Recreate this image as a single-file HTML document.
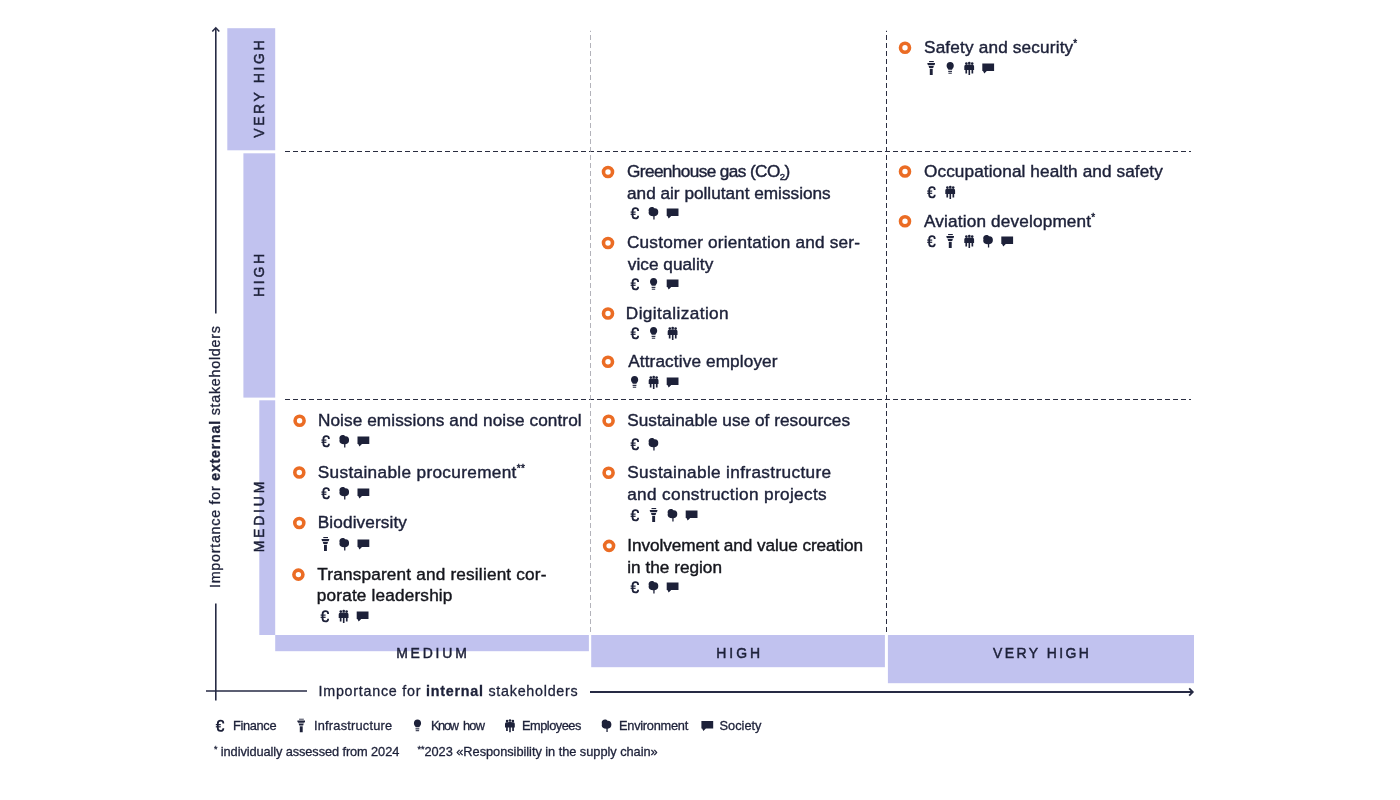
<!DOCTYPE html>
<html><head><meta charset="utf-8"><title>Materiality matrix</title>
<style>
html,body{margin:0;padding:0;background:#fff;}
body{width:1400px;height:800px;overflow:hidden;}
svg{display:block;will-change:transform;}
text{font-family:"Liberation Sans",sans-serif;}
</style></head><body>
<svg width="1400" height="800" viewBox="0 0 1400 800">
<defs>
<symbol id='i-euro' viewBox='0 0 14 14'><path d='M10.5 4.9 V4.4 C10.5 2.8 9.6 2.2 7.8 2.2 C5.9 2.2 5.0 2.9 5.0 4.9 V9.7 C5.0 11.7 5.9 12.4 7.8 12.4 C9.6 12.4 10.5 11.8 10.5 10.2 V9.7' fill='none' stroke='currentColor' stroke-width='1.8'/><rect x='3.0' y='5.5' width='5.0' height='1.2'/><rect x='3.0' y='7.7' width='5.0' height='1.2'/></symbol>
<symbol id='i-tower' viewBox='0 0 14 14'><rect x='4.9' y='0' width='4.7' height='1.1'/><path d='M3.2 2.0 H10.8 V2.9 L10.1 4.2 H3.9 L3.2 2.9 Z'/><path d='M4.4 5.0 H9.6 L9.0 6.9 H5.0 Z'/><rect x='5.6' y='7.8' width='2.9' height='6.2'/></symbol>
<symbol id='i-bulb' viewBox='0 0 14 14'><path d='M7 1.0 C9.2 1.0 10.6 2.6 10.6 4.7 C10.6 6.5 9.4 7.3 8.8 8.8 H5.2 C4.6 7.3 3.4 6.5 3.4 4.7 C3.4 2.6 4.8 1.0 7 1.0 Z'/><rect x='5.0' y='9.8' width='3.8' height='1.1'/><rect x='5.2' y='11.7' width='3.4' height='1.0'/></symbol>
<symbol id='i-emp' viewBox='0 0 14 14'><circle cx='4.2' cy='2.6' r='1.3'/><circle cx='7.1' cy='2.0' r='1.35'/><circle cx='10.0' cy='2.6' r='1.3'/><path d='M2.1 5.4 Q2.1 3.8 3.5 3.8 H5.4 Q5.8 3.2 6.6 3.2 H7.6 Q8.4 3.2 8.8 3.8 H10.6 Q11.9 3.8 11.9 5.4 V9.0 H11.0 V12.4 H9.3 V9.0 H7.9 V14.0 H6.3 V9.0 H4.9 V12.4 H3.2 V9.0 H2.1 Z'/></symbol>
<symbol id='i-tree' viewBox='0 0 14 14'><path d='M2.0 4.6 C1.9 2.3 3.3 1.1 5.3 1.1 C6.5 1.1 7.3 1.6 7.8 2.2 C10.3 2.0 11.7 3.4 11.7 6.0 C11.7 8.6 10.4 10.1 8.0 10.2 V13.6 H6.7 V10.2 C3.8 10.2 2.0 8.9 2.0 6.8 C2.3 6.0 2.3 5.4 2.0 4.6 Z'/></symbol>
<symbol id='i-speech' viewBox='0 0 14 14'><path d='M1.2 2.4 H12.8 Q12.9 2.4 12.9 2.6 V9.9 Q12.9 10.1 12.8 10.1 H5.6 L3.1 12.5 L1.8 10.1 H1.2 Q1.1 10.1 1.1 9.9 V2.6 Q1.1 2.4 1.2 2.4 Z'/></symbol>
</defs>
<rect width='1400' height='800' fill='#fff'/>
<rect x='227.3' y='28.2' width='47.90' height='122.10' fill='#c1c2ef'/>
<rect x='243.4' y='153.3' width='31.80' height='244.30' fill='#c1c2ef'/>
<rect x='259.3' y='400.3' width='15.90' height='234.70' fill='#c1c2ef'/>
<rect x='275.2' y='635' width='313.70' height='16.20' fill='#c1c2ef'/>
<rect x='591.2' y='635' width='293.70' height='32.20' fill='#c1c2ef'/>
<rect x='887.9' y='635' width='306.10' height='48.20' fill='#c1c2ef'/>
<line x1='285' y1='151.5' x2='1191' y2='151.5' stroke='#2a2d40' stroke-width='1' stroke-dasharray='5 3'/>
<line x1='285' y1='399.5' x2='1191' y2='399.5' stroke='#2a2d40' stroke-width='1' stroke-dasharray='5 3'/>
<line x1='886.5' y1='30.75' x2='886.5' y2='632' stroke='#2a2d40' stroke-width='1' stroke-dasharray='5 3' stroke-dashoffset='3.75'/>
<line x1='590.5' y1='30.75' x2='590.5' y2='632' stroke='#a0a0a8' stroke-width='0.8' stroke-dasharray='5 3' stroke-dashoffset='3.75'/>
<line x1='215.8' y1='28' x2='215.8' y2='313.5' stroke='#262a44' stroke-width='1.6'/>
<polyline points='212.3,31.5 215.8,27.8 219.3,31.5' fill='none' stroke='#262a44' stroke-width='1.5'/>
<line x1='215.8' y1='603.5' x2='215.8' y2='700.5' stroke='#262a44' stroke-width='1.6'/>
<line x1='206' y1='691' x2='307' y2='691' stroke='#262a44' stroke-width='1.6'/>
<line x1='590' y1='692' x2='1192' y2='692' stroke='#262a44' stroke-width='2'/>
<polyline points='1189.2,688.4 1192.8,692 1189.2,695.6' fill='none' stroke='#262a44' stroke-width='1.8'/>
<circle cx='905' cy='47.7' r='4.5' fill='none' stroke='#eb6c24' stroke-width='3.6'/>
<use href='#i-tower' x='924.2' y='61' width='14' height='14' fill='#1d2139' color='#1d2139'/>
<use href='#i-bulb' x='943.2' y='61' width='14' height='14' fill='#1d2139' color='#1d2139'/>
<use href='#i-emp' x='962.2' y='61' width='14' height='14' fill='#1d2139' color='#1d2139'/>
<use href='#i-speech' x='981.2' y='61' width='14' height='14' fill='#1d2139' color='#1d2139'/>
<circle cx='905' cy='171.5' r='4.5' fill='none' stroke='#eb6c24' stroke-width='3.6'/>
<use href='#i-euro' x='924.2' y='185' width='14' height='14' fill='#1d2139' color='#1d2139'/>
<use href='#i-emp' x='943.2' y='185' width='14' height='14' fill='#1d2139' color='#1d2139'/>
<circle cx='905' cy='221.3' r='4.5' fill='none' stroke='#eb6c24' stroke-width='3.6'/>
<use href='#i-euro' x='924.2' y='234' width='14' height='14' fill='#1d2139' color='#1d2139'/>
<use href='#i-tower' x='943.2' y='234' width='14' height='14' fill='#1d2139' color='#1d2139'/>
<use href='#i-emp' x='962.2' y='234' width='14' height='14' fill='#1d2139' color='#1d2139'/>
<use href='#i-tree' x='981.2' y='234' width='14' height='14' fill='#1d2139' color='#1d2139'/>
<use href='#i-speech' x='1000.2' y='234' width='14' height='14' fill='#1d2139' color='#1d2139'/>
<circle cx='608' cy='172' r='4.5' fill='none' stroke='#eb6c24' stroke-width='3.6'/>
<use href='#i-euro' x='627.6' y='206' width='14' height='14' fill='#1d2139' color='#1d2139'/>
<use href='#i-tree' x='646.6' y='206' width='14' height='14' fill='#1d2139' color='#1d2139'/>
<use href='#i-speech' x='665.6' y='206' width='14' height='14' fill='#1d2139' color='#1d2139'/>
<circle cx='608' cy='243' r='4.5' fill='none' stroke='#eb6c24' stroke-width='3.6'/>
<use href='#i-euro' x='627.6' y='277' width='14' height='14' fill='#1d2139' color='#1d2139'/>
<use href='#i-bulb' x='646.6' y='277' width='14' height='14' fill='#1d2139' color='#1d2139'/>
<use href='#i-speech' x='665.6' y='277' width='14' height='14' fill='#1d2139' color='#1d2139'/>
<circle cx='608' cy='313.5' r='4.5' fill='none' stroke='#eb6c24' stroke-width='3.6'/>
<use href='#i-euro' x='627.6' y='326' width='14' height='14' fill='#1d2139' color='#1d2139'/>
<use href='#i-bulb' x='646.6' y='326' width='14' height='14' fill='#1d2139' color='#1d2139'/>
<use href='#i-emp' x='665.6' y='326' width='14' height='14' fill='#1d2139' color='#1d2139'/>
<circle cx='608' cy='361.7' r='4.5' fill='none' stroke='#eb6c24' stroke-width='3.6'/>
<use href='#i-bulb' x='627.6' y='375' width='14' height='14' fill='#1d2139' color='#1d2139'/>
<use href='#i-emp' x='646.6' y='375' width='14' height='14' fill='#1d2139' color='#1d2139'/>
<use href='#i-speech' x='665.6' y='375' width='14' height='14' fill='#1d2139' color='#1d2139'/>
<circle cx='608.6' cy='420.7' r='4.5' fill='none' stroke='#eb6c24' stroke-width='3.6'/>
<use href='#i-euro' x='627.6' y='437' width='14' height='14' fill='#1d2139' color='#1d2139'/>
<use href='#i-tree' x='646.6' y='437' width='14' height='14' fill='#1d2139' color='#1d2139'/>
<circle cx='608.6' cy='472.8' r='4.5' fill='none' stroke='#eb6c24' stroke-width='3.6'/>
<use href='#i-euro' x='627.6' y='508' width='14' height='14' fill='#1d2139' color='#1d2139'/>
<use href='#i-tower' x='646.6' y='508' width='14' height='14' fill='#1d2139' color='#1d2139'/>
<use href='#i-tree' x='665.6' y='508' width='14' height='14' fill='#1d2139' color='#1d2139'/>
<use href='#i-speech' x='684.6' y='508' width='14' height='14' fill='#1d2139' color='#1d2139'/>
<circle cx='609.1' cy='545.85' r='4.5' fill='none' stroke='#eb6c24' stroke-width='3.6'/>
<use href='#i-euro' x='627.6' y='580' width='14' height='14' fill='#1d2139' color='#1d2139'/>
<use href='#i-tree' x='646.6' y='580' width='14' height='14' fill='#1d2139' color='#1d2139'/>
<use href='#i-speech' x='665.6' y='580' width='14' height='14' fill='#1d2139' color='#1d2139'/>
<circle cx='299.6' cy='420.75' r='4.5' fill='none' stroke='#eb6c24' stroke-width='3.6'/>
<use href='#i-euro' x='318.4' y='434' width='14' height='14' fill='#1d2139' color='#1d2139'/>
<use href='#i-tree' x='337.4' y='434' width='14' height='14' fill='#1d2139' color='#1d2139'/>
<use href='#i-speech' x='356.4' y='434' width='14' height='14' fill='#1d2139' color='#1d2139'/>
<circle cx='299.3' cy='472.5' r='4.5' fill='none' stroke='#eb6c24' stroke-width='3.6'/>
<use href='#i-euro' x='318.4' y='486' width='14' height='14' fill='#1d2139' color='#1d2139'/>
<use href='#i-tree' x='337.4' y='486' width='14' height='14' fill='#1d2139' color='#1d2139'/>
<use href='#i-speech' x='356.4' y='486' width='14' height='14' fill='#1d2139' color='#1d2139'/>
<circle cx='299.3' cy='523' r='4.5' fill='none' stroke='#eb6c24' stroke-width='3.6'/>
<use href='#i-tower' x='318.4' y='537' width='14' height='14' fill='#1d2139' color='#1d2139'/>
<use href='#i-tree' x='337.4' y='537' width='14' height='14' fill='#1d2139' color='#1d2139'/>
<use href='#i-speech' x='356.4' y='537' width='14' height='14' fill='#1d2139' color='#1d2139'/>
<circle cx='298.4' cy='574.6' r='4.5' fill='none' stroke='#eb6c24' stroke-width='3.6'/>
<use href='#i-euro' x='317.6' y='609' width='14' height='14' fill='#1d2139' color='#1d2139'/>
<use href='#i-emp' x='336.6' y='609' width='14' height='14' fill='#1d2139' color='#1d2139'/>
<use href='#i-speech' x='355.6' y='609' width='14' height='14' fill='#1d2139' color='#1d2139'/>
<use href='#i-euro' x='212.8' y='718.5' width='14' height='14' fill='#1d2139' color='#1d2139'/>
<use href='#i-tower' x='294.2' y='718.5' width='14' height='14' fill='#1d2139' color='#1d2139'/>
<use href='#i-bulb' x='410.5' y='718.5' width='14' height='14' fill='#1d2139' color='#1d2139'/>
<use href='#i-emp' x='502.9' y='718.5' width='14' height='14' fill='#1d2139' color='#1d2139'/>
<use href='#i-tree' x='599.7' y='718.5' width='14' height='14' fill='#1d2139' color='#1d2139'/>
<use href='#i-speech' x='700.3' y='718.5' width='14' height='14' fill='#1d2139' color='#1d2139'/>
<text id='safety' font-size='17.2' font-weight='normal' fill='#1d2139' stroke='#1d2139' stroke-width='0.42' textLength='153.28' lengthAdjust='spacing' x='924.00' y='52.5'>Safety and security<tspan font-size='10' dy='-6'>*</tspan></text>
<text id='occup' font-size='17.2' font-weight='normal' fill='#1d2139' stroke='#1d2139' stroke-width='0.42' textLength='238.82' lengthAdjust='spacing' x='924.00' y='176.7'>Occupational health and safety</text>
<text id='aviation' font-size='17.2' font-weight='normal' fill='#1d2139' stroke='#1d2139' stroke-width='0.42' textLength='171.14' lengthAdjust='spacing' x='924.00' y='226.5'>Aviation development<tspan font-size='10' dy='-6'>*</tspan></text>
<text id='greenhouse' font-size='17.2' font-weight='normal' fill='#1d2139' stroke='#1d2139' stroke-width='0.42' textLength='163.15' lengthAdjust='spacing' x='627.00' y='176.7'>Greenhouse gas (CO<tspan font-size='9.5' dy='3'>2</tspan><tspan dy='-3'>)</tspan></text>
<text id='andair' font-size='17.2' font-weight='normal' fill='#1d2139' stroke='#1d2139' stroke-width='0.42' textLength='203.70' lengthAdjust='spacing' x='627.00' y='198.7'>and air pollutant emissions</text>
<text id='customer' font-size='17.2' font-weight='normal' fill='#1d2139' stroke='#1d2139' stroke-width='0.42' textLength='232.97' lengthAdjust='spacing' x='627.00' y='248'>Customer orientation and ser-</text>
<text id='vice' font-size='17.2' font-weight='normal' fill='#1d2139' stroke='#1d2139' stroke-width='0.42' textLength='85.43' lengthAdjust='spacing' x='627.80' y='269.6'>vice quality</text>
<text id='digital' font-size='17.2' font-weight='normal' fill='#1d2139' stroke='#1d2139' stroke-width='0.42' textLength='102.85' lengthAdjust='spacing' x='625.80' y='318.9'>Digitalization</text>
<text id='attract' font-size='17.2' font-weight='normal' fill='#1d2139' stroke='#1d2139' stroke-width='0.42' textLength='149.31' lengthAdjust='spacing' x='628.20' y='366.9'>Attractive employer</text>
<text id='sustuse' font-size='17.2' font-weight='normal' fill='#1d2139' stroke='#1d2139' stroke-width='0.42' textLength='222.87' lengthAdjust='spacing' x='627.20' y='425.7'>Sustainable use of resources</text>
<text id='sustinfra' font-size='17.2' font-weight='normal' fill='#1d2139' stroke='#1d2139' stroke-width='0.42' textLength='203.91' lengthAdjust='spacing' x='627.20' y='478.1'>Sustainable infrastructure</text>
<text id='andconstr' font-size='17.2' font-weight='normal' fill='#1d2139' stroke='#1d2139' stroke-width='0.42' textLength='199.48' lengthAdjust='spacing' x='627.20' y='499.6'>and construction projects</text>
<text id='involv' font-size='17.2' font-weight='normal' fill='#15161d' stroke='#15161d' stroke-width='0.42' textLength='235.91' lengthAdjust='spacing' x='627.20' y='550.7'>Involvement and value creation</text>
<text id='inregion' font-size='17.2' font-weight='normal' fill='#15161d' stroke='#15161d' stroke-width='0.42' textLength='94.81' lengthAdjust='spacing' x='627.20' y='572.7'>in the region</text>
<text id='noise' font-size='17.2' font-weight='normal' fill='#1d2139' stroke='#1d2139' stroke-width='0.42' textLength='263.71' lengthAdjust='spacing' x='317.90' y='425.6'>Noise emissions and noise control</text>
<text id='sustproc' font-size='17.2' font-weight='normal' fill='#1d2139' stroke='#1d2139' stroke-width='0.42' textLength='207.09' lengthAdjust='spacing' x='317.80' y='477.5'>Sustainable procurement<tspan font-size='10' dy='-6'>**</tspan></text>
<text id='biodiv' font-size='17.2' font-weight='normal' fill='#1d2139' stroke='#1d2139' stroke-width='0.42' textLength='89.09' lengthAdjust='spacing' x='317.80' y='528'>Biodiversity</text>
<text id='transp' font-size='17.2' font-weight='normal' fill='#15161d' stroke='#15161d' stroke-width='0.42' textLength='229.26' lengthAdjust='spacing' x='317.20' y='579.7'>Transparent and resilient cor-</text>
<text id='porate' font-size='17.2' font-weight='normal' fill='#15161d' stroke='#15161d' stroke-width='0.42' textLength='135.63' lengthAdjust='spacing' x='316.80' y='600.7'>porate leadership</text>
<text id='l_fin' font-size='12.8' font-weight='normal' fill='#1d2139' stroke='#1d2139' stroke-width='0.3' textLength='43.53' lengthAdjust='spacing' x='233.00' y='730.4'>Finance</text>
<text id='l_inf' font-size='12.8' font-weight='normal' fill='#1d2139' stroke='#1d2139' stroke-width='0.3' textLength='78.19' lengthAdjust='spacing' x='314.00' y='730.4'>Infrastructure</text>
<text id='l_kh' font-size='12.8' font-weight='normal' fill='#1d2139' stroke='#1d2139' stroke-width='0.3' textLength='28.02' lengthAdjust='spacing' x='430.90' y='730.0'>Know</text>
<text id='l_kh2' font-size='12.8' font-weight='normal' fill='#1d2139' stroke='#1d2139' stroke-width='0.3' textLength='21.98' lengthAdjust='spacing' x='463.00' y='730.0'>how</text>
<text id='l_emp' font-size='12.8' font-weight='normal' fill='#1d2139' stroke='#1d2139' stroke-width='0.3' textLength='59.31' lengthAdjust='spacing' x='522.00' y='730.4'>Employees</text>
<text id='l_env' font-size='12.8' font-weight='normal' fill='#1d2139' stroke='#1d2139' stroke-width='0.3' textLength='69.24' lengthAdjust='spacing' x='619.00' y='730.4'>Environment</text>
<text id='l_soc' font-size='12.8' font-weight='normal' fill='#1d2139' stroke='#1d2139' stroke-width='0.3' textLength='41.97' lengthAdjust='spacing' x='719.50' y='730.4'>Society</text>
<text id='fn1' font-size='12.8' font-weight='normal' fill='#1d2139' stroke='#1d2139' stroke-width='0.3' textLength='185.27' lengthAdjust='spacing' x='214.00' y='756.1'><tspan font-size='9' dy='-4'>*</tspan><tspan dy='4'> individually assessed from 2024</tspan></text>
<text id='fn2' font-size='12.8' font-weight='normal' fill='#1d2139' stroke='#1d2139' stroke-width='0.3' textLength='240.18' lengthAdjust='spacing' x='417.50' y='756.1'><tspan font-size='9' dy='-4'>**</tspan><tspan dy='4'>2023 «Responsibility in the supply chain»</tspan></text>
<text id='t_int' font-size='14.3' font-weight='normal' fill='#1d2139' stroke='#1d2139' stroke-width='0.3' textLength='259.24' lengthAdjust='spacing' x='318.50' y='695.6'>Importance for <tspan font-weight='bold'>internal</tspan> stakeholders</text>
<text id='t_ext' font-size='14.3' font-weight='normal' fill='#1d2139' stroke='#1d2139' stroke-width='0.3' textLength='261.85' lengthAdjust='spacing' transform='translate(220.3,588.00) rotate(-90)' x='0' y='0'>Importance for <tspan font-weight='bold'>external</tspan> stakeholders</text>
<text id='lab_m' font-size='15.2' font-weight='normal' fill='#1d2139' stroke='#1d2139' stroke-width='0.5' textLength='76.82' lengthAdjust='spacing' transform='translate(431.50,657.7) scale(0.92,1)' x='0' y='0' text-anchor='middle'>MEDIUM</text>
<text id='lab_h' font-size='15.2' font-weight='normal' fill='#1d2139' stroke='#1d2139' stroke-width='0.5' textLength='47.54' lengthAdjust='spacing' transform='translate(738.20,657.7) scale(0.92,1)' x='0' y='0' text-anchor='middle'>HIGH</text>
<text id='lab_vh' font-size='15.2' font-weight='normal' fill='#1d2139' stroke='#1d2139' stroke-width='0.5' textLength='104.10' lengthAdjust='spacing' transform='translate(1041.00,657.8) scale(0.92,1)' x='0' y='0' text-anchor='middle'>VERY HIGH</text>
<text id='vlab_vh' font-size='15.2' font-weight='normal' fill='#1d2139' stroke='#1d2139' stroke-width='0.5' textLength='105.84' lengthAdjust='spacing' transform='translate(264,89.10) rotate(-90) scale(0.92,1)' x='0' y='0' text-anchor='middle'>VERY HIGH</text>
<text id='vlab_h' font-size='15.2' font-weight='normal' fill='#1d2139' stroke='#1d2139' stroke-width='0.5' textLength='46.88' lengthAdjust='spacing' transform='translate(264,275.40) rotate(-90) scale(0.92,1)' x='0' y='0' text-anchor='middle'>HIGH</text>
<text id='vlab_m' font-size='15.2' font-weight='normal' fill='#1d2139' stroke='#1d2139' stroke-width='0.5' textLength='76.82' lengthAdjust='spacing' transform='translate(264,517.00) rotate(-90) scale(0.92,1)' x='0' y='0' text-anchor='middle'>MEDIUM</text>
</svg>
</body></html>
